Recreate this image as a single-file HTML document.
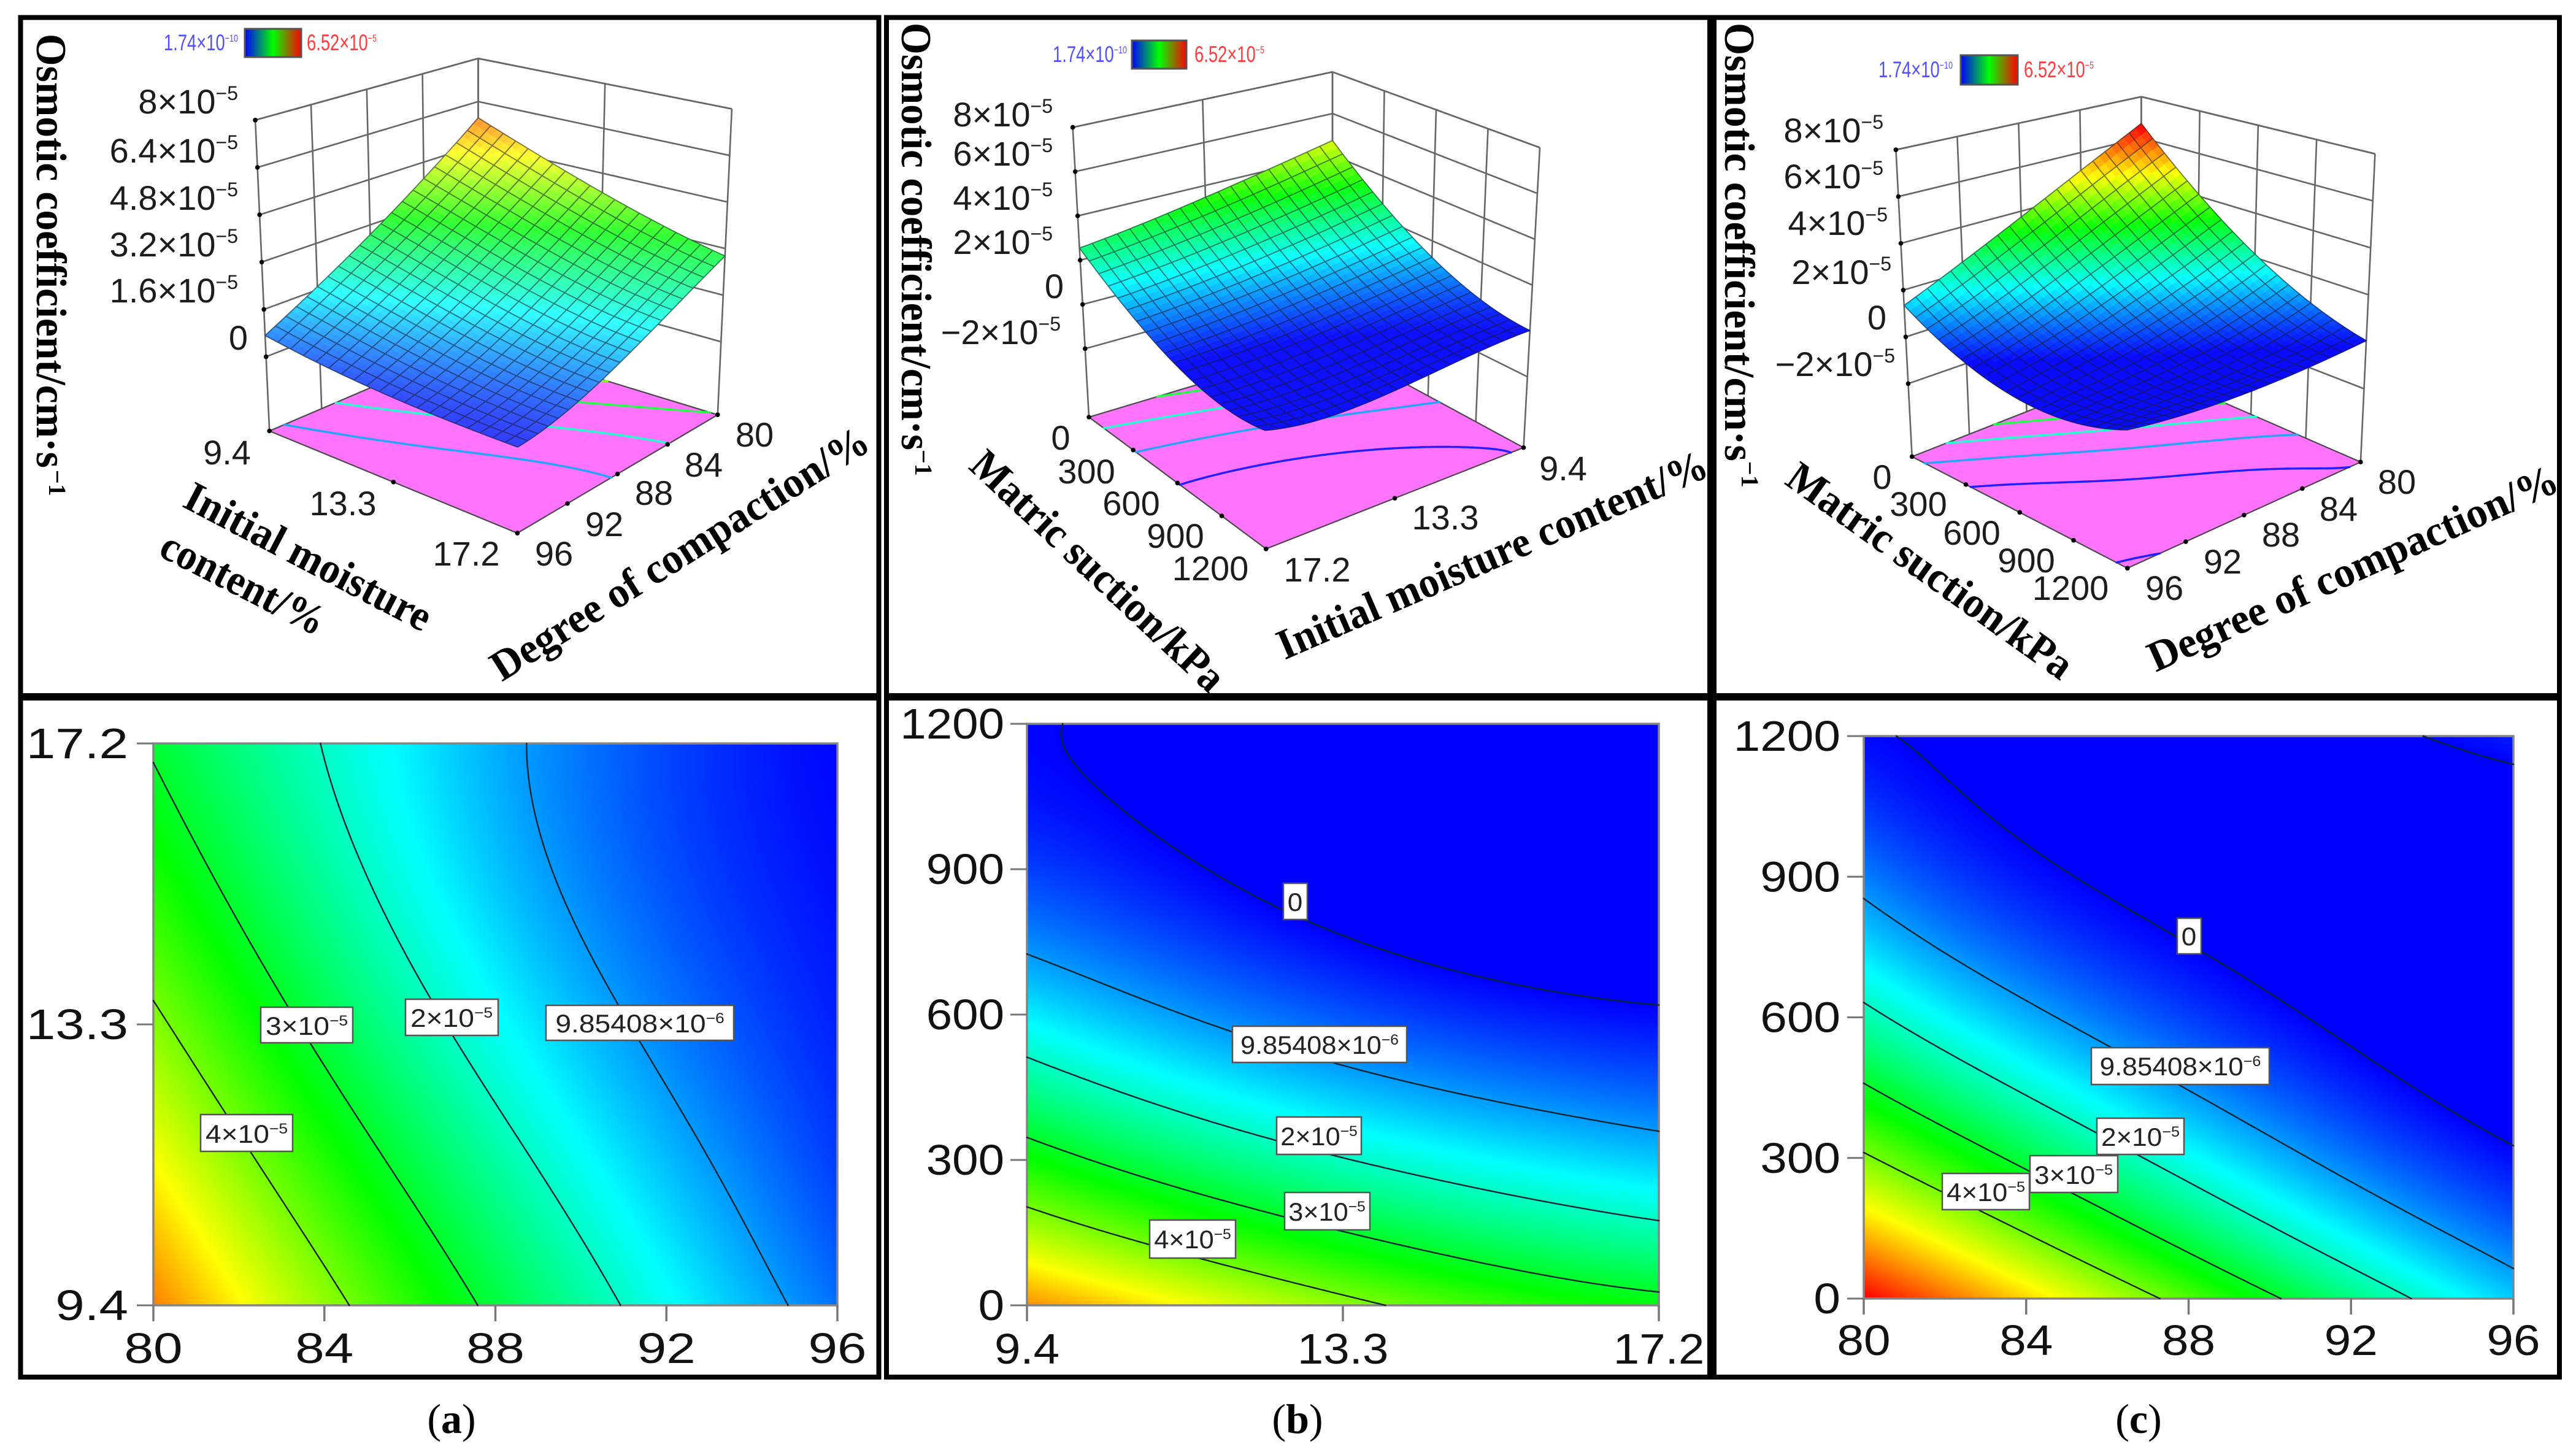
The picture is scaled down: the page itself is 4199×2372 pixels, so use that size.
<!DOCTYPE html>
<html lang="en">
<head>
<meta charset="utf-8">
<title>Osmotic coefficient response surfaces</title>
<style>
html,body{margin:0;padding:0;background:#fff;}
#figure-root{position:relative;width:4199px;height:2372px;overflow:hidden;background:#fff;}
canvas{position:absolute;z-index:1;display:block;}
#figure{position:absolute;left:0;top:0;z-index:2;}
.frame{fill:none;stroke:#000;stroke-width:8;}
.ax{font-family:"Liberation Serif",serif;font-weight:700;fill:#000;font-size:70px;}
.tick3d{font-family:"Liberation Sans",sans-serif;fill:#1c1c1c;font-size:56px;}
.tickh{font-family:"Liberation Sans",sans-serif;fill:#111;font-size:70px;}
.lg{font-family:"Liberation Sans",sans-serif;font-size:37px;}
.cl rect{fill:#fff;stroke:#555;stroke-width:2.5;}
.cl text{font-family:"Liberation Sans",sans-serif;font-size:42px;fill:#222;text-anchor:middle;}
.cap{font-family:"Liberation Serif",serif;font-size:68px;fill:#000;text-anchor:middle;}
</style>
</head>
<body>
<div id="figure-root">
<canvas id="heat-a"></canvas>
<canvas id="heat-b"></canvas>
<canvas id="heat-c"></canvas>
<svg id="figure" xmlns="http://www.w3.org/2000/svg" width="4199" height="2372" viewBox="0 0 4199 2372">
<defs>
<linearGradient id="legend-grad" x1="0" x2="1" y1="0" y2="0">
<stop offset="0" stop-color="#0000ff"/><stop offset=".5" stop-color="#00ff00"/><stop offset="1" stop-color="#ff0000"/>
</linearGradient>
</defs>

<rect class="frame" x="33.5" y="28.5" width="1399" height="1105.5"/>
<rect class="frame" x="1445" y="28.5" width="1342" height="1105.5"/>
<rect class="frame" x="2794" y="28.5" width="1378" height="1105.5"/>
<rect class="frame" x="33.5" y="1138" width="1399" height="1107"/>
<rect class="frame" x="1445" y="1138" width="1342" height="1107"/>
<rect class="frame" x="2794" y="1138" width="1378" height="1107"/>

<g id="surface-a"></g>
<g id="surface-b"></g>
<g id="surface-c"></g>
<g id="contour-a"></g>
<g id="contour-b"></g>
<g id="contour-c"></g>

<!-- z axis titles -->
<g>
<text class="ax" transform="translate(60,55) rotate(90)" textLength="708" lengthAdjust="spacingAndGlyphs">Osmotic coefficient/cm·s</text>
<text class="ax" transform="translate(80,766) rotate(90)" style="font-size:40px">−1</text>
</g>
<g>
<text class="ax" transform="translate(1470,37) rotate(90)" textLength="697" lengthAdjust="spacingAndGlyphs">Osmotic coefficient/cm·s</text>
<text class="ax" transform="translate(1492,733) rotate(90)" style="font-size:40px">−1</text>
</g>
<g>
<text class="ax" transform="translate(2812,37) rotate(90)" textLength="715" lengthAdjust="spacingAndGlyphs">Osmotic coefficient/cm·s</text>
<text class="ax" transform="translate(2839,752) rotate(90)" style="font-size:40px">−1</text>
</g>

<!-- floor axis titles -->
<text class="ax" transform="translate(818,1112) rotate(-32.2)" textLength="714" lengthAdjust="spacingAndGlyphs">Degree of compaction/%</text>
<text class="ax" transform="translate(295,825) rotate(27.6)" textLength="444" lengthAdjust="spacingAndGlyphs">Initial moisture</text>
<text class="ax" transform="translate(256,905) rotate(27)" textLength="292" lengthAdjust="spacingAndGlyphs">content/%</text>
<text class="ax" transform="translate(1577,763) rotate(43.1)" textLength="540" lengthAdjust="spacingAndGlyphs">Matric suction/kPa</text>
<text class="ax" transform="translate(2094,1076) rotate(-23.4)" textLength="757" lengthAdjust="spacingAndGlyphs">Initial moisture content/%</text>
<text class="ax" transform="translate(2907,788) rotate(35.5)" textLength="555" lengthAdjust="spacingAndGlyphs">Matric suction/kPa</text>
<text class="ax" transform="translate(3514,1096) rotate(-24.2)" textLength="725" lengthAdjust="spacingAndGlyphs">Degree of compaction/%</text>

<!-- colour legends -->
<g>
<text class="lg" fill="#5050ff" transform="translate(267,82) scale(.74,1)">1.74×10<tspan font-size="17" dy="-14">−10</tspan></text>
<rect x="399" y="47" width="92" height="46" fill="url(#legend-grad)" stroke="#555" stroke-width="3"/>
<text class="lg" fill="#ff3c3c" transform="translate(500,82) scale(.74,1)">6.52×10<tspan font-size="17" dy="-14">−5</tspan></text>
</g>
<g>
<text class="lg" fill="#5050ff" transform="translate(1716,101) scale(.74,1)">1.74×10<tspan font-size="17" dy="-14">−10</tspan></text>
<rect x="1845" y="66" width="89" height="46" fill="url(#legend-grad)" stroke="#555" stroke-width="3"/>
<text class="lg" fill="#ff3c3c" transform="translate(1947,101) scale(.74,1)">6.52×10<tspan font-size="17" dy="-14">−5</tspan></text>
</g>
<g>
<text class="lg" fill="#5050ff" transform="translate(3062,126) scale(.74,1)">1.74×10<tspan font-size="17" dy="-14">−10</tspan></text>
<rect x="3196" y="90" width="93" height="48" fill="url(#legend-grad)" stroke="#555" stroke-width="3"/>
<text class="lg" fill="#ff3c3c" transform="translate(3299,126) scale(.74,1)">6.52×10<tspan font-size="17" dy="-14">−5</tspan></text>
</g>

<!-- contour labels, panel a -->
<g class="cl"><rect x="425" y="1642" width="150" height="58"/><text transform="translate(500,1687) scale(1.1,1)">3×10<tspan font-size="24" dy="-15">−5</tspan></text></g>
<g class="cl"><rect x="661" y="1629" width="151" height="59"/><text transform="translate(736,1674) scale(1.1,1)">2×10<tspan font-size="24" dy="-15">−5</tspan></text></g>
<g class="cl"><rect x="890" y="1639" width="306" height="57"/><text transform="translate(1043,1683) scale(1.1,1)">9.85408×10<tspan font-size="24" dy="-15">−6</tspan></text></g>
<g class="cl"><rect x="327" y="1817" width="150" height="60"/><text transform="translate(402,1863) scale(1.1,1)">4×10<tspan font-size="24" dy="-15">−5</tspan></text></g>
<!-- contour labels, panel b -->
<g class="cl"><rect x="2092" y="1440" width="39" height="59"/><text transform="translate(2111,1485) scale(1.05,1)">0</text></g>
<g class="cl"><rect x="2009" y="1673" width="284" height="59"/><text transform="translate(2151,1718) scale(1.03,1)">9.85408×10<tspan font-size="24" dy="-15">−6</tspan></text></g>
<g class="cl"><rect x="2081" y="1821" width="138" height="61"/><text transform="translate(2150,1867) scale(1.03,1)">2×10<tspan font-size="24" dy="-15">−5</tspan></text></g>
<g class="cl"><rect x="2094" y="1944" width="139" height="61"/><text transform="translate(2163,1990) scale(1.03,1)">3×10<tspan font-size="24" dy="-15">−5</tspan></text></g>
<g class="cl"><rect x="1874" y="1989" width="140" height="62"/><text transform="translate(1944,2035) scale(1.03,1)">4×10<tspan font-size="24" dy="-15">−5</tspan></text></g>
<!-- contour labels, panel c -->
<g class="cl"><rect x="3549" y="1497" width="39" height="58"/><text transform="translate(3568,1541) scale(1.05,1)">0</text></g>
<g class="cl"><rect x="3409" y="1708" width="290" height="60"/><text transform="translate(3554,1753) scale(1.05,1)">9.85408×10<tspan font-size="24" dy="-15">−6</tspan></text></g>
<g class="cl"><rect x="3418" y="1823" width="142" height="59"/><text transform="translate(3489,1868) scale(1.05,1)">2×10<tspan font-size="24" dy="-15">−5</tspan></text></g>
<g class="cl"><rect x="3309" y="1884" width="143" height="60"/><text transform="translate(3380,1930) scale(1.05,1)">3×10<tspan font-size="24" dy="-15">−5</tspan></text></g>
<g class="cl"><rect x="3166" y="1913" width="142" height="59"/><text transform="translate(3237,1958) scale(1.05,1)">4×10<tspan font-size="24" dy="-15">−5</tspan></text></g>

<text class="cap" x="736" y="2336">(<tspan font-weight="700">a</tspan>)</text>
<text class="cap" x="2115" y="2336">(<tspan font-weight="700">b</tspan>)</text>
<text class="cap" x="3486" y="2336">(<tspan font-weight="700">c</tspan>)</text>
</svg>
</div>
<script>
// ---- data (values in units of 1e-5 cm/s) ----
// rows run along the y factor low to high, columns along the x factor low to high
const contourValuesA = [
  [5.70, 4.20, 2.87, 1.70, 0.72],
  [4.90, 3.49, 2.27, 1.24, 0.40],
  [4.12, 2.80, 1.68, 0.80, 0.20],
  [3.45, 2.30, 1.30, 0.55, 0.10],
  [2.95, 1.95, 1.16, 0.42, 0.03]
];
const contourValuesB = [
  [5.60, 4.90, 4.15, 3.60, 3.20],
  [3.30, 2.60, 2.00, 1.62, 1.28],
  [1.55, 1.00, 0.52, 0.24, 0.05],
  [0.40, 0.05, -0.31, -0.53, -0.47],
  [0.04, -0.24, -0.47, -0.70, -0.29]
];
const contourValuesC = [
  [6.52, 5.15, 3.75, 2.45, 1.30],
  [4.10, 2.82, 1.72, 0.77, 0.08],
  [2.15, 1.15, 0.39, -0.15, -0.51],
  [0.82, 0.15, -0.24, -0.32, -0.47],
  [0.05, -0.16, -0.18, -0.12, 0.18]
];
const surfaceValuesA = [
  [5.80, 4.20, 2.87, 1.70, 0.72],
  [4.90, 3.49, 2.27, 1.24, 0.40],
  [4.12, 2.80, 1.68, 0.80, 0.20],
  [3.45, 2.30, 1.30, 0.55, 0.12],
  [2.95, 1.95, 1.10, 0.40, 0.10]
];
const surfaceValuesB = [
  [4.70, 4.05, 3.45, 2.95, 2.55],
  [2.70, 2.15, 1.65, 1.30, 1.05],
  [1.25, 0.80, 0.42, 0.20, 0.05],
  [0.35, 0.05, -0.30, -0.50, -0.45],
  [0.03, -0.24, -0.47, -0.70, -0.29]
];
const surfaceValuesC = [
  [6.70, 5.15, 3.75, 2.45, 1.35],
  [4.10, 2.82, 1.72, 0.77, 0.08],
  [2.15, 1.15, 0.39, -0.15, -0.51],
  [0.82, 0.15, -0.24, -0.32, -0.47],
  [0.05, -0.16, -0.18, -0.12, 0.18]
];
const contourLevels = [0, 0.985408, 2, 3, 4];
const colorScaleMax = 6.52;

const compactionTicks = [80, 84, 88, 92, 96];
const compactionLabels = ["80", "84", "88", "92", "96"];
const moistureTicks = [9.4, 13.3, 17.2];
const moistureLabels = ["9.4", "13.3", "17.2"];
const suctionTicks = [0, 300, 600, 900, 1200];
const suctionLabels = ["0", "300", "600", "900", "1200"];
const zTicksA = [0, 1.6, 3.2, 4.8, 6.4, 8];
const zLabelsA = ["0", "1.6×10", "3.2×10", "4.8×10", "6.4×10", "8×10"];
const zTicksBC = [-2, 0, 2, 4, 6, 8];
const zLabelsBC = ["−2×10", "0", "2×10", "4×10", "6×10", "8×10"];

// ---- layout ----
const SVGNS = "http://www.w3.org/2000/svg";
function clamp(a, lo, hi) { return Math.max(lo, Math.min(hi, a)); }
function jet(val) {
  const t = clamp(val / colorScaleMax, 0, 1);
  if (t < .25) return [0, 255 * t * 4, 255];
  if (t < .5) return [0, 255, 255 * (1 - (t - .25) * 4)];
  if (t < .75) return [255 * (t - .5) * 4, 255, 0];
  return [255, 255 * (1 - (t - .75) * 4), 0];
}
function rgb(c, k) {
  const m = x => Math.round(x + (255 - x) * (k || 0));
  return "rgb(" + m(c[0]) + "," + m(c[1]) + "," + m(c[2]) + ")";
}
// smooth cubic reconstruction weights over the five sampled positions
const R5 = Math.sqrt(5), R10 = Math.sqrt(10), R14 = Math.sqrt(14);
const pMatrix = [
  [1 / R5, 1 / R5, 1 / R5, 1 / R5, 1 / R5],
  [-2 / R10, -1 / R10, 0, 1 / R10, 2 / R10],
  [2 / R14, -1 / R14, -2 / R14, -1 / R14, 2 / R14],
  [-1 / R10, 2 / R10, 0, -2 / R10, 1 / R10]
];
function basis(t) {
  const x = 4 * t - 2;
  const P = [1 / R5, x / R10, (x * x - 2) / R14, (x * x * x - 3.4 * x) / (1.2 * R10)];
  const out = [0, 0, 0, 0, 0];
  for (let k = 0; k < 4; k++) for (let i = 0; i < 5; i++) out[i] += pMatrix[k][i] * P[k];
  return out;
}
function sample(grid, u, v) {
  const bu = basis(u), bv = basis(v);
  let s = 0;
  for (let r = 0; r < 5; r++) for (let c = 0; c < 5; c++) s += grid[r][c] * bv[r] * bu[c];
  return s;
}
function scale(ticks) {
  const lo = ticks[0], hi = ticks[ticks.length - 1];
  return function (x) { return (x - lo) / (hi - lo); };
}
function contourPath(grid, level, n, map) {
  const vals = [];
  for (let j = 0; j <= n; j++) {
    const row = [];
    for (let i = 0; i <= n; i++) row.push(sample(grid, i / n, j / n));
    vals.push(row);
  }
  let d = "";
  const f = (p) => p.toFixed(1);
  for (let j = 0; j < n; j++) for (let i = 0; i < n; i++) {
    const a = vals[j][i], b = vals[j][i + 1], c = vals[j + 1][i + 1], e = vals[j + 1][i];
    const pts = [];
    const edge = (v1, v2, u1, w1, u2, w2) => {
      if ((v1 < level) !== (v2 < level)) {
        const s = (level - v1) / (v2 - v1);
        pts.push(map((u1 + (u2 - u1) * s) / n, (w1 + (w2 - w1) * s) / n));
      }
    };
    edge(a, b, i, j, i + 1, j);
    edge(b, c, i + 1, j, i + 1, j + 1);
    edge(e, c, i, j + 1, i + 1, j + 1);
    edge(a, e, i, j, i, j + 1);
    for (let k = 0; k + 1 < pts.length; k += 2) {
      d += "M" + f(pts[k][0]) + " " + f(pts[k][1]) + "L" + f(pts[k + 1][0]) + " " + f(pts[k + 1][1]);
    }
  }
  return d;
}
function make(tag, parent, attrs) {
  const el = document.createElementNS(SVGNS, tag);
  for (const k in attrs) el.setAttribute(k, attrs[k]);
  parent.appendChild(el);
  return el;
}
function labelWithPower(el, text, sup, supSize, supDy) {
  el.textContent = text;
  if (sup) {
    const t = make("tspan", el, { "font-size": supSize, dy: supDy });
    t.textContent = sup;
    
    
  }
}

// ---- 2D contour panels ----
function drawHeat(cfg) {
  const W = cfg.x1 - cfg.x0, H = cfg.y1 - cfg.y0;
  const cv = document.getElementById(cfg.canvas);
  const cw = Math.round(W / 2), ch = Math.round(H / 2);
  cv.width = cw; cv.height = ch;
  cv.style.left = cfg.x0 + "px"; cv.style.top = cfg.y0 + "px";
  cv.style.width = W + "px"; cv.style.height = H + "px";
  const ctx = cv.getContext("2d");
  const im = ctx.createImageData(cw, ch);
  for (let y = 0; y < ch; y++) {
    const v = 1 - y / (ch - 1), bv = basis(v);
    const line = [0, 1, 2, 3, 4].map(c => { let s = 0; for (let r = 0; r < 5; r++) s += cfg.grid[r][c] * bv[r]; return s; });
    for (let x = 0; x < cw; x++) {
      const bu = basis(x / (cw - 1));
      let s = 0;
      for (let c = 0; c < 5; c++) s += line[c] * bu[c];
      const col = jet(s), o = (y * cw + x) * 4;
      im.data[o] = col[0]; im.data[o + 1] = col[1]; im.data[o + 2] = col[2]; im.data[o + 3] = 255;
    }
  }
  ctx.putImageData(im, 0, 0);

  const g = document.getElementById(cfg.group);
  const xPos = u => cfg.x0 + u * W, yPos = v => cfg.y1 - v * H;
  const border = make("rect", g, { x: cfg.x0, y: cfg.y0, width: W, height: H, fill: "none", stroke: "#858585", "stroke-width": 3.5 });
  
  
  contourLevels.forEach(function (lv) {
    const d = contourPath(cfg.grid, lv, 140, (u, v) => [xPos(u), yPos(v)]);
    if (!d) return;
    const p = make("path", g, { d: d, fill: "none", stroke: "#0c2430", "stroke-width": 2.4, "stroke-linecap": "round" });
    
    
  });
  const sx = scale(cfg.xTicks), sy = scale(cfg.yTicks);
  cfg.xTicks.forEach(function (t, i) {
    const x = xPos(sx(t));
    const l = make("line", g, { x1: x, x2: x, y1: cfg.y1, y2: cfg.y1 + 26, stroke: "#777", "stroke-width": 3.5 });
    
    
    const tx = make("text", g, { class: "tickh", "text-anchor": "middle", transform: "translate(" + x + "," + cfg.xBase + ") scale(" + cfg.sx + ",1)" });
    tx.textContent = cfg.xLabels[i];
    
    
  });
  cfg.yTicks.forEach(function (t, i) {
    const y = yPos(sy(t));
    const l = make("line", g, { x1: cfg.x0 - 27, x2: cfg.x0, y1: y, y2: y, stroke: "#777", "stroke-width": 3 });
    
    
    const tx = make("text", g, { class: "tickh", "text-anchor": "end", transform: "translate(" + cfg.yRight + "," + (y + 24) + ") scale(" + cfg.sx + ",1)" });
    tx.textContent = cfg.yLabels[i];
    
    
  });
}

// ---- 3D surface panels ----
function drawSurface(cfg) {
  const g = document.getElementById(cfg.group);
  const c = cfg.corners;
  const bil = (a, b, e, f, u, v) => (1 - u) * (1 - v) * a + u * (1 - v) * b + (1 - u) * v * e + u * v * f;
  const P = function (u, v, z) {
    const k = (z - cfg.zMin) / (cfg.zMax - cfg.zMin);
    const bx = bil(c.B[0], c.L[0], c.R[0], c.F[0], u, v), by = bil(c.B[1], c.L[1], c.R[1], c.F[1], u, v);
    const tx = bil(c.Bt[0], c.Lt[0], c.Rt[0], c.Ft[0], u, v), ty = bil(c.Bt[1], c.Lt[1], c.Rt[1], c.Ft[1], u, v);
    return [bx + (tx - bx) * k, by + (ty - by) * k];
  };
  const pts = arr => arr.map(p => p[0].toFixed(1) + "," + p[1].toFixed(1)).join(" ");
  const su = scale(cfg.uTicks), sv = scale(cfg.vTicks);
  const wall = "#666";
  const wallLine = function (a, b) {
    const l = make("line", g, { x1: a[0], y1: a[1], x2: b[0], y2: b[1], stroke: wall, "stroke-width": 2.6 });
    
    
  };
  cfg.zTicks.concat([cfg.zMax]).forEach(function (z) {
    wallLine(P(1, 0, z), P(0, 0, z));
    wallLine(P(0, 0, z), P(0, 1, z));
  });
  cfg.uTicks.forEach(function (t) { const u = su(t); wallLine(P(u, 0, cfg.zMin), P(u, 0, cfg.zMax)); });
  cfg.vTicks.forEach(function (t) { const v = sv(t); wallLine(P(0, v, cfg.zMin), P(0, v, cfg.zMax)); });

  const floor = make("polygon", g, { points: pts([P(0, 0, cfg.zMin), P(1, 0, cfg.zMin), P(1, 1, cfg.zMin), P(0, 1, cfg.zMin)]), fill: "#ff73ff", stroke: "#4a4a4a", "stroke-width": 2.2 });
  
  
  contourLevels.forEach(function (lv) {
    const d = contourPath(cfg.surface, lv, 80, (u, v) => P(u, v, cfg.zMin));
    if (!d) return;
    const p = make("path", g, { d: d, fill: "none", stroke: rgb(jet(lv), .12), "stroke-width": 3.4, "stroke-linecap": "round" });
    
    
  });

  const N = 20, M = 40;
  const z = (a, b) => sample(cfg.surface, a, b);
  for (let s = 0; s <= 2 * (M - 1); s++) {
    for (let i = 0; i < M; i++) {
      const j = s - i;
      if (j < 0 || j >= M) continue;
      const u0 = i / M, u1 = (i + 1) / M, v0 = j / M, v1 = (j + 1) / M;
      const col = rgb(jet(z((u0 + u1) / 2, (v0 + v1) / 2)), cfg.pale);
      const cell = make("polygon", g, {
        points: pts([P(u0, v0, z(u0, v0)), P(u1, v0, z(u1, v0)), P(u1, v1, z(u1, v1)), P(u0, v1, z(u0, v1))]),
        fill: col, stroke: col, "stroke-width": 1, "stroke-linejoin": "round"
      });
      
      
    }
  }
  // wire mesh over the surface, sampled along each mesh line
  let mesh = "";
  for (let a = 0; a <= N; a++) {
    const lineU = [], lineV = [];
    for (let b = 0; b <= M; b++) {
      lineU.push(P(a / N, b / M, z(a / N, b / M)));
      lineV.push(P(b / M, a / N, z(b / M, a / N)));
    }
    [lineU, lineV].forEach(function (ln) {
      mesh += "M" + ln.map(p => p[0].toFixed(1) + " " + p[1].toFixed(1)).join("L");
    });
  }
  const meshPath = make("path", g, { d: mesh, fill: "none", stroke: "rgba(25,30,40," + cfg.gridAlpha + ")", "stroke-width": 1.9 });
  
  

  const dot = function (p) {
    const e = make("circle", g, { cx: p[0], cy: p[1], r: 3.8, fill: "#000" });
    
    
  };
  cfg.zTicks.concat([cfg.zMax]).forEach(z2 => dot(P(1, 0, z2)));
  cfg.vTicks.forEach(t => dot(P(1, sv(t), cfg.zMin)));
  cfg.uTicks.forEach(t => dot(P(su(t), 1, cfg.zMin)));

  cfg.zTicks.forEach(function (t, i) {
    const pos = cfg.zLabelPos[i];
    const text = cfg.zLabels[i];
    const tx = make("text", g, { class: "tick3d", "text-anchor": "end", x: pos[0], y: pos[1] });
    labelWithPower(tx, text, text === "0" ? "" : "−5", 32, -22);
    
    
  });
  cfg.uLabels.forEach(function (lab, i) {
    const pos = cfg.uLabelPos[i];
    const tx = make("text", g, { class: "tick3d", "text-anchor": "middle", x: pos[0], y: pos[1] + 20 });
    tx.textContent = lab;
    
    
  });
  cfg.vLabels.forEach(function (lab, i) {
    const pos = cfg.vLabelPos[i];
    const tx = make("text", g, { class: "tick3d", "text-anchor": "middle", x: pos[0], y: pos[1] + 20 });
    tx.textContent = lab;
    
    
  });
}

drawHeat({ canvas: "heat-a", group: "contour-a", x0: 250, x1: 1365, y0: 1212, y1: 2128, grid: contourValuesA,
  xTicks: compactionTicks, xLabels: compactionLabels, yTicks: moistureTicks, yLabels: moistureLabels, xBase: 2222, yRight: 209, sx: 1.22 });
drawHeat({ canvas: "heat-b", group: "contour-b", x0: 1674, x1: 2704, y0: 1180, y1: 2128, grid: contourValuesB,
  xTicks: moistureTicks, xLabels: moistureLabels, yTicks: suctionTicks, yLabels: suctionLabels, xBase: 2223, yRight: 1637, sx: 1.09 });
drawHeat({ canvas: "heat-c", group: "contour-c", x0: 3038, x1: 4097, y0: 1200, y1: 2117, grid: contourValuesC,
  xTicks: compactionTicks, xLabels: compactionLabels, yTicks: suctionTicks, yLabels: suctionLabels, xBase: 2209, yRight: 3000, sx: 1.12 });

drawSurface({ group: "surface-a", surface: surfaceValuesA, zMin: -2.51, zMax: 8, pale: .2, gridAlpha: .55,
  corners: { B: [779.5, 557], Bt: [779.5, 95.3], L: [439.2, 702.6], Lt: [416.1, 195.8], R: [1169.8, 676.2], Rt: [1192.9, 177.5], F: [843.4, 869.1], Ft: [845, 304] },
  uTicks: compactionTicks, uLabels: compactionLabels, vTicks: moistureTicks, vLabels: moistureLabels,
  zTicks: zTicksA, zLabels: zLabelsA,
  zLabelPos: [[404, 570], [388, 493], [388, 418], [388, 342], [388, 265], [388, 185]],
  uLabelPos: [[1230, 708], [1147, 757], [1066, 803], [985, 854], [903, 902]],
  vLabelPos: [[370, 737], [559, 820], [760, 902]] });
drawSurface({ group: "surface-b", surface: surfaceValuesB, zMin: -5.09, zMax: 8, pale: .06, gridAlpha: .55,
  corners: { B: [2172, 561], Bt: [2172, 117.3], L: [1775, 680], Lt: [1748.6, 207.6], R: [2483.5, 729.7], Rt: [2510, 240.6], F: [2063.7, 894.8], Ft: [2059, 367] },
  uTicks: moistureTicks, uLabels: moistureLabels, vTicks: suctionTicks, vLabels: suctionLabels,
  zTicks: zTicksBC, zLabels: zLabelsBC,
  zLabelPos: [[1729, 561], [1734, 486], [1716, 414], [1716, 342], [1716, 270], [1716, 206]],
  uLabelPos: [[2548, 763], [2356, 843], [2147, 928]],
  vLabelPos: [[1729, 713], [1771, 768], [1844, 820], [1916, 873], [1973, 926]] });
drawSurface({ group: "surface-c", surface: surfaceValuesC, zMin: -5.12, zMax: 8, pale: .04, gridAlpha: .55,
  corners: { B: [3490.4, 597.7], Bt: [3490.4, 157.7], L: [3116.7, 744.4], Lt: [3090.4, 244.2], R: [3847.9, 753.2], Rt: [3871.4, 250.8], F: [3467.8, 926.3], Ft: [3466, 368] },
  uTicks: compactionTicks, uLabels: compactionLabels, vTicks: suctionTicks, vLabels: suctionLabels,
  zTicks: zTicksBC, zLabels: zLabelsBC,
  zLabelPos: [[3089, 613], [3075, 537], [3083, 463], [3077, 383], [3070, 307], [3070, 232]],
  uLabelPos: [[3907, 785], [3812, 829], [3718, 871], [3623, 915], [3528, 958]],
  vLabelPos: [[3068, 777], [3127, 821], [3214, 868], [3303, 913], [3375, 958]] });
</script>
</body>
</html>
